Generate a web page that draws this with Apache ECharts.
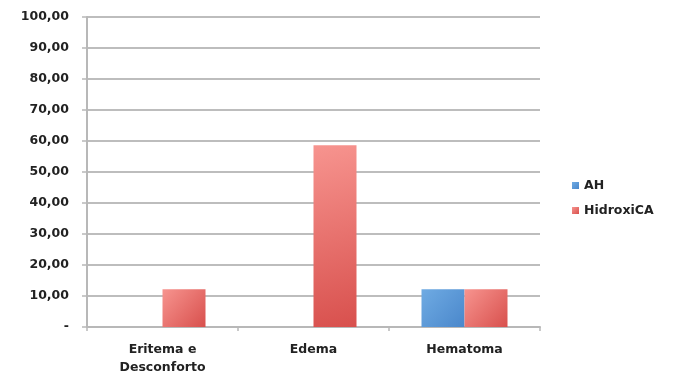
<!DOCTYPE html>
<html>
<head>
<meta charset="utf-8">
<script src="https://cdn.jsdelivr.net/npm/echarts@6/dist/echarts.min.js"></script>
<style>
  html, body { margin: 0; padding: 0; background: #fff; }
  #chart { width: 675px; height: 378px; }
</style>
</head>
<body>
<div id="chart"></div>
<script>
// Adverse effects by product (%)
const categories = ['Eritema e\nDesconforto', 'Edema', 'Hematoma'];
const seriesNames = ['AH', 'HidroxiCA'];
const valuesAH = [0, 0, 12.2];
const valuesHidroxiCA = [12.2, 58.6, 12.2];

const FONT = '"DejaVu Sans", Verdana, sans-serif';

function barGradient(top, bottom) {
  return new echarts.graphic.LinearGradient(0, 0, 1, 1, [
    { offset: 0, color: top },
    { offset: 1, color: bottom }
  ]);
}

const chart = echarts.init(document.getElementById('chart'), null, { renderer: 'canvas' });
chart.setOption({
  animation: false,
  backgroundColor: '#ffffff',
  grid: { left: 87, right: 135, top: 17, bottom: 51, containLabel: false },
  legend: {
    orient: 'vertical',
    left: 567,
    top: 174,
    itemWidth: 7,
    itemHeight: 7,
    itemGap: 12,
    icon: 'rect',
    data: seriesNames,
    textStyle: { fontFamily: FONT, fontWeight: 'bold', fontSize: 12.5, color: '#222' }
  },
  xAxis: {
    type: 'category',
    data: categories,
    axisLine: { lineStyle: { color: '#b8b8b8', width: 2 } },
    axisTick: { show: true, length: 4, lineStyle: { color: '#b8b8b8', width: 1.5 } },
    axisLabel: {
      fontFamily: FONT, fontWeight: 'bold', fontSize: 12.5, color: '#222',
      margin: 14, lineHeight: 18
    }
  },
  yAxis: {
    type: 'value',
    min: 0,
    max: 100,
    interval: 10,
    axisLine: { show: true, lineStyle: { color: '#b8b8b8', width: 2 } },
    axisTick: { show: true, length: 5, lineStyle: { color: '#b8b8b8', width: 1.5 } },
    splitLine: { lineStyle: { color: '#bdbdbd', width: 2 } },
    axisLabel: {
      fontFamily: FONT, fontWeight: 'bold', fontSize: 12.5, color: '#222', margin: 18,
      formatter: v => v === 0 ? '-' : v.toFixed(2).replace('.', ',')
    }
  },
  series: [
    {
      name: 'AH',
      type: 'bar',
      data: valuesAH,
      barWidth: 43,
      barGap: '0%',
      itemStyle: { color: barGradient('#6fabe3', '#4a87cb') }
    },
    {
      name: 'HidroxiCA',
      type: 'bar',
      data: valuesHidroxiCA,
      barWidth: 43,
      barGap: '0%',
      itemStyle: { color: barGradient('#f7948f', '#d8504d') }
    }
  ]
});
</script>
</body>
</html>
